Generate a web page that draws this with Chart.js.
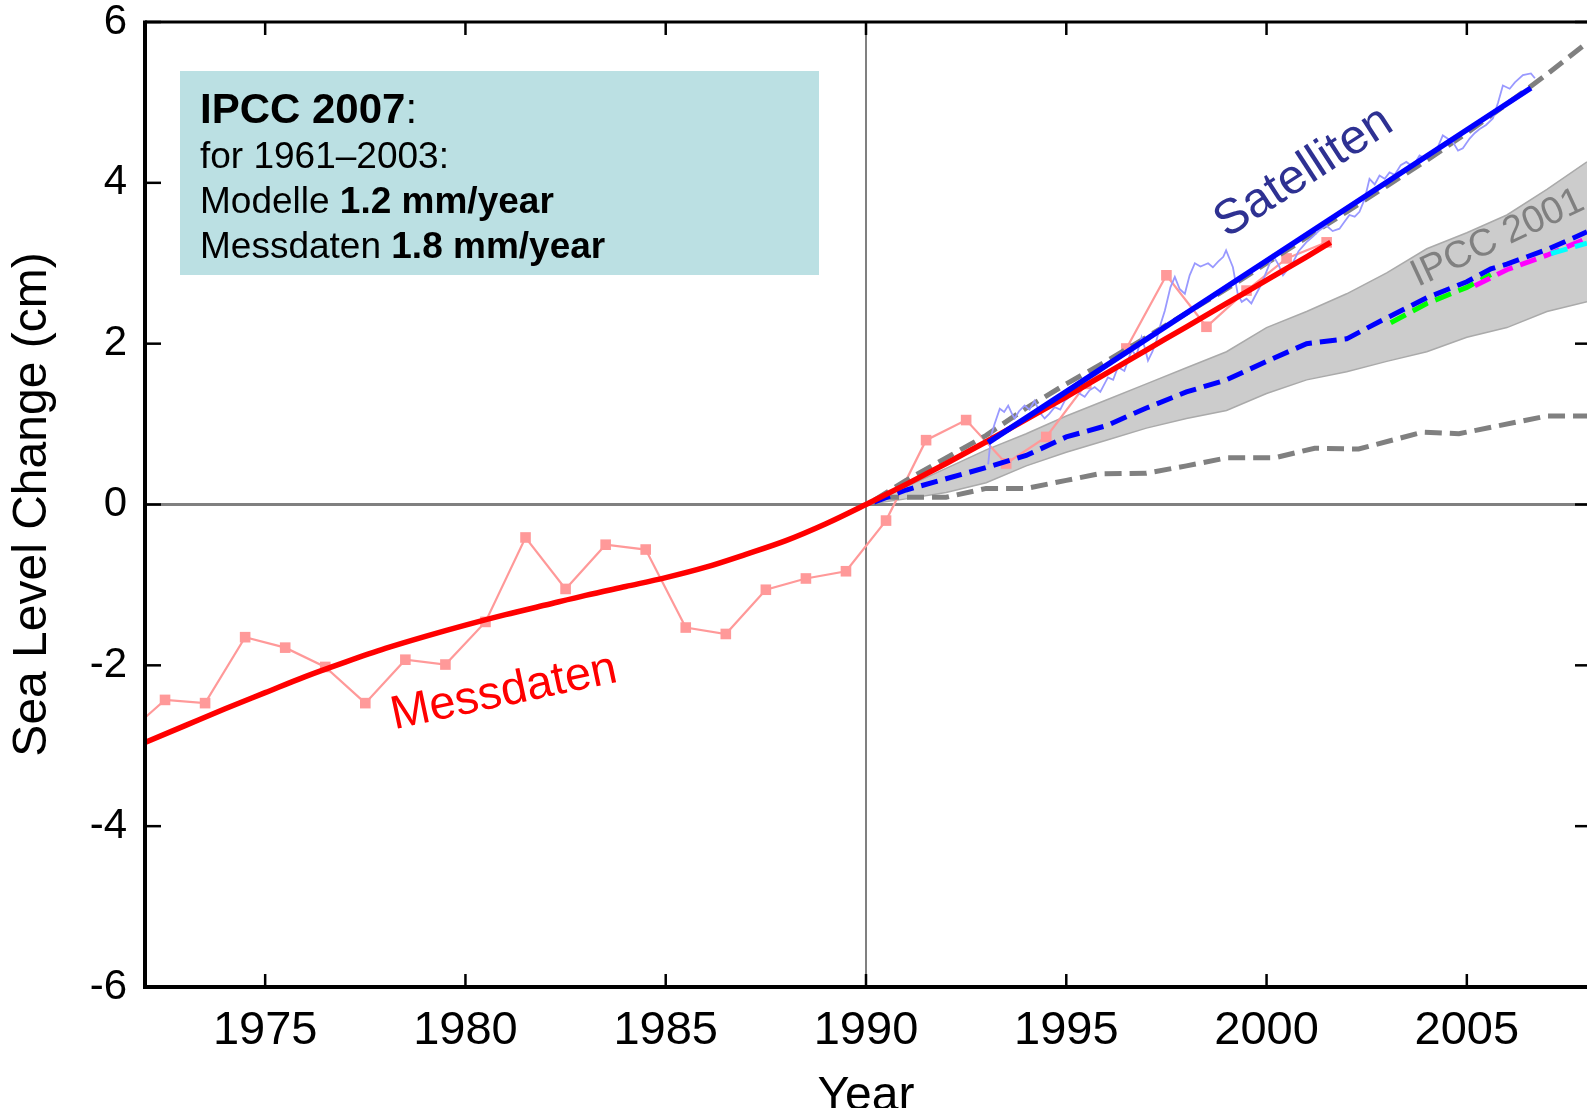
<!DOCTYPE html>
<html>
<head>
<meta charset="utf-8">
<title>Sea Level Change</title>
<script src="https://cdn.jsdelivr.net/npm/chart.js@4.4.1/dist/chart.umd.min.js"></script>
<style>
  html, body { margin: 0; padding: 0; background: #fff; }
  #chart { display: block; }
</style>
</head>
<body>
<canvas id="chart" width="1587" height="1108"></canvas>
<script>
// ---- data ----
const xTickYears = [1975, 1980, 1985, 1990, 1995, 2000, 2005];
const yTickValues = [-6, -4, -2, 0, 2, 4, 6];

// tide gauge annual values (pink squares)
const gaugeYears = [1971.5, 1972.5, 1973.5, 1974.5, 1975.5, 1976.5, 1977.5, 1978.5, 1979.5, 1980.5,
  1981.5, 1982.5, 1983.5, 1984.5, 1985.5, 1986.5, 1987.5, 1988.5, 1989.5, 1990.5,
  1991.5, 1992.5, 1993.5, 1994.5, 1995.5, 1996.5, 1997.5, 1998.5, 1999.5, 2000.5, 2001.5];
const gaugeValues = [-2.87, -2.43, -2.47, -1.65, -1.78, -2.02, -2.47, -1.93, -1.99, -1.46,
  -0.41, -1.05, -0.50, -0.56, -1.53, -1.61, -1.06, -0.92, -0.83, -0.20,
  0.80, 1.05, 0.51, 0.84, 1.50, 1.94, 2.85, 2.21, 2.66, 3.06, 3.26];

// smoothed tide gauge curve (red)
const fitYears = [1972, 1973, 1974, 1975, 1976, 1977, 1978, 1979, 1980, 1981, 1982, 1983, 1984,
  1985, 1986, 1987, 1988, 1989, 1990, 1991, 1992, 1993, 1994, 1995, 1996, 1997, 1998, 1999,
  2000, 2001, 2001.6];
const fitValues = [-2.96, -2.75, -2.54, -2.34, -2.14, -1.96, -1.79, -1.64, -1.50, -1.37, -1.25, -1.13, -1.02,
  -0.91, -0.78, -0.62, -0.45, -0.24, 0.00, 0.25, 0.51, 0.78, 1.06, 1.34, 1.63, 1.92, 2.21, 2.50,
  2.79, 3.08, 3.26];

// satellite altimetry (light blue)
const satYears = [1993.05, 1993.12, 1993.21, 1993.34, 1993.45, 1993.55, 1993.65, 1993.71, 1993.82, 1993.96,
  1994.08, 1994.21, 1994.33, 1994.46, 1994.58, 1994.71, 1994.85, 1994.96, 1995.10, 1995.21,
  1995.33, 1995.46, 1995.58, 1995.71, 1995.85, 1996.04, 1996.17, 1996.29, 1996.45, 1996.63,
  1996.75, 1996.88, 1996.96, 1997.04, 1997.15, 1997.25, 1997.36, 1997.46, 1997.60, 1997.71,
  1997.83, 1997.96, 1998.08, 1998.21, 1998.35, 1998.54, 1998.66, 1998.79, 1998.92, 1998.99,
  1999.08, 1999.16, 1999.28, 1999.38, 1999.50, 1999.62, 1999.70, 1999.85, 2000.00, 2000.16,
  2000.30, 2000.41, 2000.52, 2000.66, 2000.80, 2000.99, 2001.15, 2001.30, 2001.49, 2001.65,
  2001.82, 2001.95, 2002.07, 2002.20, 2002.32, 2002.45, 2002.57, 2002.70, 2002.82, 2002.95,
  2003.07, 2003.20, 2003.35, 2003.49, 2003.65, 2003.82, 2003.98, 2004.15, 2004.28, 2004.40,
  2004.52, 2004.65, 2004.78, 2004.90, 2005.07, 2005.20, 2005.32, 2005.48, 2005.65, 2005.78,
  2005.90, 2006.07, 2006.20, 2006.40, 2006.60, 2006.70];
const satValues = [0.50, 0.85, 1.00, 1.19, 1.15, 1.23, 1.12, 1.07, 1.16, 1.23,
  1.18, 1.29, 1.15, 1.07, 1.13, 1.21, 1.18, 1.29, 1.35, 1.46,
  1.38, 1.34, 1.42, 1.46, 1.40, 1.58, 1.55, 1.71, 1.66, 1.92,
  1.85, 2.08, 1.95, 1.79, 1.90, 2.04, 2.25, 2.41, 2.70, 2.83,
  2.68, 2.62, 2.85, 3.00, 2.96, 3.00, 2.95, 3.02, 3.08, 3.16,
  3.05, 2.95, 2.62, 2.52, 2.56, 2.50, 2.58, 2.72, 2.90, 3.10,
  2.98, 2.85, 2.92, 3.01, 3.15, 3.26, 3.33, 3.40, 3.47, 3.40,
  3.43, 3.52, 3.60, 3.58, 3.64, 3.80, 4.05, 3.98, 4.09, 4.05,
  4.13, 4.10, 4.22, 4.26, 4.20, 4.34, 4.30, 4.38, 4.45, 4.59,
  4.55, 4.51, 4.40, 4.43, 4.55, 4.62, 4.67, 4.72, 4.80, 5.00,
  5.21, 5.17, 5.25, 5.34, 5.36, 5.30];

// satellite trend (blue)
const satTrendYears = [1993.05, 2006.6];
const satTrendValues = [0.77, 5.18];

// IPCC 2001 range (grey band)
const bandYears = [1990, 1991, 1992, 1993, 1994, 1995, 1996, 1997, 1998, 1999,
  2000, 2001, 2002, 2003, 2004, 2005, 2006, 2007, 2008];
const bandUpper = [0.00, 0.22, 0.45, 0.68, 0.88, 1.10, 1.30, 1.50, 1.70, 1.90,
  2.20, 2.40, 2.62, 2.88, 3.18, 3.38, 3.60, 3.92, 4.26];
const bandLower = [0.00, 0.07, 0.15, 0.27, 0.48, 0.65, 0.80, 0.95, 1.07, 1.17,
  1.38, 1.55, 1.65, 1.78, 1.90, 2.08, 2.20, 2.40, 2.52];

// IPCC 2001 upper / lower projections (grey dashed)
const highYears = [1990.2, 1991, 1992, 1993, 1994, 1995, 1996, 1997, 1998, 1999,
  2000, 2001, 2002, 2003, 2004, 2005, 2006, 2007, 2008];
const highValues = [0.05, 0.30, 0.58, 0.86, 1.20, 1.50, 1.78, 2.08, 2.38, 2.68,
  3.00, 3.32, 3.64, 3.96, 4.28, 4.62, 4.98, 5.35, 5.74];
const lowYears = [1990.4, 1992.0, 1993.0, 1994.0, 1995.0, 1995.8, 1997.0, 1998.0, 1999.0, 2000.2,
  2001.2, 2002.3, 2003.9, 2004.8, 2007.0, 2008.0];
const lowValues = [0.09, 0.09, 0.20, 0.20, 0.30, 0.38, 0.39, 0.48, 0.58, 0.58,
  0.70, 0.69, 0.90, 0.88, 1.10, 1.10];

// IPCC 2001 central model (blue dashed) and model runs after 2003
const modelYears = [1990.2, 1991, 1992, 1993, 1994, 1995, 1996, 1997, 1998, 1999,
  2000, 2001, 2002, 2002.8, 2004, 2005, 2005.6, 2006, 2007, 2008];
const modelValues = [0.03, 0.18, 0.32, 0.46, 0.61, 0.84, 0.98, 1.20, 1.40, 1.55,
  1.78, 2.00, 2.06, 2.27, 2.57, 2.77, 2.93, 2.99, 3.17, 3.39];
const greenYears = [2003.1, 2004, 2005, 2005.6];
const greenValues = [2.26, 2.50, 2.70, 2.86];
const magentaYears = [2005.2, 2006, 2007, 2008];
const magentaValues = [2.72, 2.92, 3.10, 3.31];
const cyanYears = [2007.1, 2008];
const cyanValues = [3.12, 3.25];

// text
const boxLines = [
  [['IPCC 2007', true], [':', false]],
  [['for 1961\u20132003:', false]],
  [['Modelle ', false], ['1.2 mm/year', true]],
  [['Messdaten ', false], ['1.8 mm/year', true]]
];
const yTitle = 'Sea Level Change (cm)';
const xTitle = 'Year';

const SANS = "'Liberation Sans', Arial, sans-serif";

function pts(xs, ys) {
  return xs.map((x, i) => ({ x: x, y: ys[i] }));
}

function line(ctx, x1, y1, x2, y2) {
  ctx.beginPath();
  ctx.moveTo(x1, y1);
  ctx.lineTo(x2, y2);
  ctx.stroke();
}

// keep the plot area exactly where the figure has it
function noPad(s) {
  s.paddingTop = 0;
  s.paddingBottom = 0;
  s.paddingLeft = 0;
  s.paddingRight = 0;
}

const dash = [17, 8];

const decorations = {
  id: 'decorations',
  beforeDatasetsDraw(chart) {
    const { ctx, chartArea: a, scales: { x, y } } = chart;
    ctx.save();

    // info box
    ctx.fillStyle = '#bbe0e3';
    ctx.fillRect(180, 71, 639, 204);
    ctx.fillStyle = '#000';
    ctx.textBaseline = 'alphabetic';
    ctx.textAlign = 'left';
    boxLines.forEach((parts, i) => {
      let tx = 200;
      const ty = 123 + i * 45;
      parts.forEach(([txt, bold]) => {
        const size = i === 0 ? 42 : 37;
        ctx.font = (bold ? 'bold ' : '') + size + 'px ' + SANS;
        ctx.fillText(txt, tx, ty);
        tx += ctx.measureText(txt).width;
      });
    });

    // reference lines
    ctx.strokeStyle = '#808080';
    ctx.lineWidth = 3;
    const y0 = y.getPixelForValue(0);
    line(ctx, a.left, y0, a.right, y0);
    ctx.lineWidth = 2;
    const x90 = x.getPixelForValue(1990);
    line(ctx, x90, a.top, x90, a.bottom);

    // inward tick marks
    ctx.strokeStyle = '#000';
    ctx.lineWidth = 2.5;
    xTickYears.forEach(v => {
      const px = x.getPixelForValue(v);
      line(ctx, px, a.bottom, px, a.bottom - 13);
      line(ctx, px, a.top, px, a.top + 13);
    });
    yTickValues.forEach(v => {
      const py = y.getPixelForValue(v);
      line(ctx, a.left, py, a.left + 16, py);
      line(ctx, a.right, py, a.right - 12, py);
    });
    ctx.restore();
  },
  afterDatasetsDraw(chart) {
    const { ctx, chartArea: a, scales: { x, y } } = chart;
    ctx.save();
    // frame
    ctx.strokeStyle = '#000';
    ctx.lineWidth = 4;
    line(ctx, a.left, a.top - 1.5, a.left, a.bottom + 2);
    line(ctx, a.left - 2, a.bottom, a.right, a.bottom);
    ctx.lineWidth = 3;
    line(ctx, a.left, a.top, a.right, a.top);

    // curve labels
    const label = (txt, xv, yv, deg, color, size) => {
      ctx.save();
      ctx.translate(x.getPixelForValue(xv), y.getPixelForValue(yv));
      ctx.rotate(deg * Math.PI / 180);
      ctx.fillStyle = color;
      ctx.font = size + 'px ' + SANS;
      ctx.textAlign = 'center';
      ctx.textBaseline = 'middle';
      ctx.fillText(txt, 0, 0);
      ctx.restore();
    };
    label('Messdaten', 1980.96, -2.34, -12, '#ff0000', 47);
    label('Satelliten', 2000.93, 4.13, -33, '#2e3192', 49);
    label('IPCC 2001', 2005.77, 3.31, -25, '#808080', 38);
    ctx.restore();
  }
};

const ctx = document.getElementById('chart').getContext('2d');
new Chart(ctx, {
  type: 'line',
  data: {
    datasets: [
      { // satellite trend, on top
        data: pts(satTrendYears, satTrendValues),
        borderColor: '#0000ff', borderWidth: 5.5, pointRadius: 0, order: 1
      },
      { // smoothed gauge curve
        data: pts(fitYears, fitValues),
        borderColor: '#ff0000', borderWidth: 5.5, pointRadius: 0,
        cubicInterpolationMode: 'monotone', order: 2
      },
      { // model central
        data: pts(modelYears, modelValues),
        borderColor: '#0000ff', borderWidth: 5, borderDash: dash, pointRadius: 0, order: 3
      },
      {
        data: pts(cyanYears, cyanValues),
        borderColor: '#00ffff', borderWidth: 5, borderDash: dash, pointRadius: 0, order: 4
      },
      {
        data: pts(magentaYears, magentaValues),
        borderColor: '#ff00ff', borderWidth: 5, borderDash: dash, pointRadius: 0, order: 5
      },
      {
        data: pts(greenYears, greenValues),
        borderColor: '#00ff00', borderWidth: 5, borderDash: dash, pointRadius: 0, order: 6
      },
      { // satellite raw
        data: pts(satYears, satValues),
        borderColor: '#9999ff', borderWidth: 1.8, pointRadius: 0, order: 7
      },
      { // IPCC upper
        data: pts(highYears, highValues),
        borderColor: '#808080', borderWidth: 5, borderDash: dash, pointRadius: 0, order: 8
      },
      { // IPCC lower
        data: pts(lowYears, lowValues),
        borderColor: '#808080', borderWidth: 5, borderDash: dash, pointRadius: 0, order: 9
      },
      { // tide gauge annual
        data: pts(gaugeYears, gaugeValues),
        borderColor: '#ff9999', borderWidth: 2.2,
        pointStyle: 'rect', pointRadius: 7.5, pointBackgroundColor: '#ff9999',
        pointBorderWidth: 0, order: 10
      },
      { // band lower edge
        data: pts(bandYears, bandLower),
        borderColor: '#aaaaaa', borderWidth: 1.5, pointRadius: 0, fill: false, order: 11
      },
      { // band upper edge, filled down to lower edge
        data: pts(bandYears, bandUpper),
        borderColor: '#aaaaaa', borderWidth: 1.5, pointRadius: 0,
        fill: '-1', backgroundColor: '#cccccc', order: 12
      }
    ]
  },
  options: {
    responsive: false,
    animation: false,
    devicePixelRatio: 1,
    clip: 0,
    layout: { autoPadding: false, padding: { top: 22, right: 0, left: 0, bottom: 0 } },
    plugins: {
      legend: { display: false },
      tooltip: { enabled: false },
      filler: { propagate: false }
    },
    scales: {
      x: {
        type: 'linear',
        position: 'bottom',
        min: 1972,
        max: 2008,
        grid: { display: false, drawTicks: false },
        border: { display: false },
        afterBuildTicks: s => { s.ticks = xTickYears.map(v => ({ value: v })); },
        afterFit: s => { s.height = 121; noPad(s); },
        ticks: {
          padding: 21,
          color: '#000',
          font: { family: SANS, size: 47, lineHeight: 1 },
          callback: v => String(v)
        },
        title: {
          display: true,
          text: xTitle,
          color: '#000',
          font: { family: SANS, size: 48, lineHeight: 1 },
          padding: { top: 0, bottom: -13 }
        }
      },
      y: {
        min: -6,
        max: 6,
        grid: { display: false, drawTicks: false },
        border: { display: false },
        afterBuildTicks: s => { s.ticks = yTickValues.map(v => ({ value: v })); },
        afterFit: s => { s.width = 145; noPad(s); },
        ticks: {
          padding: 18,
          color: '#000',
          font: { family: SANS, size: 42, lineHeight: 1 },
          callback: v => String(v)
        },
        title: {
          display: true,
          text: yTitle,
          color: '#000',
          font: { family: SANS, size: 48, lineHeight: 1 },
          padding: { top: 8.5, bottom: 0 }
        }
      }
    }
  },
  plugins: [decorations]
});
</script>
</body>
</html>
